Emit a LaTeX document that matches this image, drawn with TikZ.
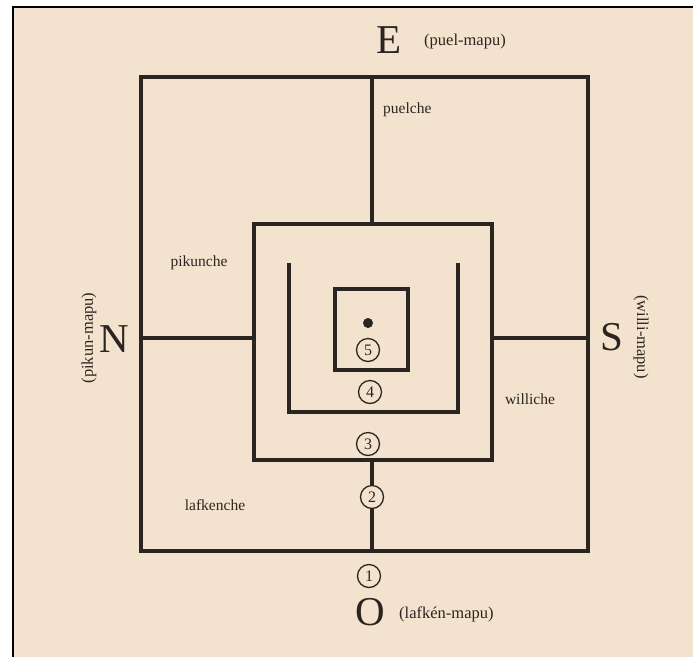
\documentclass[tikz,border=0pt]{standalone}
\usepackage{fontspec}
\setmainfont{Liberation Serif}
\definecolor{bg}{HTML}{F3E2CE}
\definecolor{ink}{HTML}{2A2520}
\begin{document}
\begin{tikzpicture}[x=1pt,y=-1pt,
  wall/.style={draw=ink,line width=3.6pt,line cap=rect},
  num/.style={circle,draw=ink,line width=1.3pt,fill=bg,inner sep=0pt,minimum size=23pt,font=\fontsize{16}{16}\selectfont,text=ink},
  big/.style={font=\fontsize{41}{41}\selectfont,text=ink,inner sep=0pt},
  lab/.style={font=\fontsize{15.5}{15.5}\selectfont,text=ink,inner sep=0pt},
  dlab/.style={font=\fontsize{16.5}{16.5}\selectfont,text=ink,inner sep=0pt}]
\useasboundingbox (0,0) rectangle (693,657);
\fill[white] (0,0) rectangle (693,657);
\fill[bg] (13,7) rectangle (693,657);
\draw[black,line width=2.5pt] (13,657) -- (13,7) -- (693,7);
% outer square
\coordinate (oTL) at (141,77);
\coordinate (oBR) at (588,551);
\draw[wall] (oTL) rectangle (oBR);
% middle square
\coordinate (mTL) at (254,224);
\coordinate (mBR) at (492,460);
\draw[wall] (mTL) rectangle (mBR);
% connectors
\coordinate (eTop) at (372,77);
\coordinate (eBot) at (372,224);
\draw[wall] (eTop) -- (eBot);
\coordinate (nL) at (141,338);
\coordinate (nR) at (254,338);
\draw[wall] (nL) -- (nR);
\coordinate (sL) at (492,338);
\coordinate (sR) at (588,338);
\draw[wall] (sL) -- (sR);
\coordinate (oT) at (372,460);
\coordinate (oB) at (372,551);
\draw[wall] (oT) -- (oB);
% U shape
\coordinate (uA) at (289,265);
\coordinate (uB) at (289,412);
\coordinate (uC) at (458,412);
\coordinate (uD) at (458,265);
\draw[wall,line join=miter] (uA) -- (uB) -- (uC) -- (uD);
% inner square
\coordinate (iTL) at (335,289);
\coordinate (iBR) at (408,370);
\draw[wall] (iTL) rectangle (iBR);
\fill[ink] (368,323) circle (5pt);
% numbers
\node[num] (n5) at (368,350) {5};
\node[num] (n4) at (370,392) {4};
\node[num] (n3) at (368,444) {3};
\node[num] (n2) at (372,497) {2};
\node[num] (n1) at (369,576) {1};
% directions
\node[big] (E) at (389,40) {E};
\node[dlab,anchor=west] (Ep) at (424,42) {(puel-mapu)};
\node[big] (O) at (370,612) {O};
\node[dlab,anchor=west] (Op) at (399,614) {(lafkén-mapu)};
\node[big] (N) at (114,339) {N};
\node[dlab,rotate=90] (Np) at (89,338) {(pikun-mapu)};
\node[big] (S) at (612,337) {S};
\node[dlab,rotate=-90] (Sp) at (641,337) {(willi-mapu)};
% regions
\node[lab,anchor=west] (pu) at (383,110) {puelche};
\node[lab] (pi) at (199,263) {pikunche};
\node[lab] (wi) at (530,399) {williche};
\node[lab] (la) at (215,505) {lafkenche};
\end{tikzpicture}
\end{document}
